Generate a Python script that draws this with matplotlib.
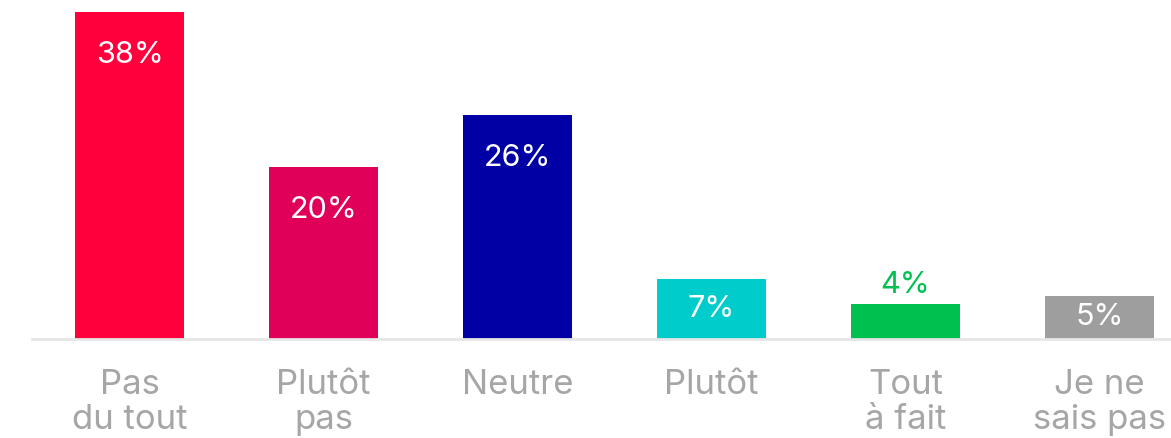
import matplotlib
matplotlib.use("Agg")
from matplotlib import pyplot as plt

plt.rcParams['font.family'] = ['Inter', 'DejaVu Sans']

categories = ['Pas\ndu tout', 'Plutôt\npas', 'Neutre', 'Plutôt', 'Tout\nà fait', 'Je ne\nsais pas']
values = [38, 20, 26, 7, 4, 5]
colors = ['#FF003C', '#E0005A', '#0000A5', '#00CCCC', '#00C050', '#9E9E9E']
# small bars get their label above the bar instead of inside
label_outside = [False, False, False, False, True, False]

fig = plt.figure(figsize=(11.71, 4.38), dpi=100)
ax = fig.add_axes([32 / 1171, 99.3 / 438, 1 - 32 / 1171, (426 - 99.3) / 438])

x = list(range(len(values)))
ax.bar(x, values, width=0.562, color=colors, zorder=2)
ax.set_xlim(-0.503, 5.369)
ax.set_ylim(0, 38)

for xi, v, c, out in zip(x, values, colors, label_outside):
    if out:
        ax.annotate(f'{v}%', (xi, v), xytext=(0, 19), textcoords='offset pixels',
                    ha='center', va='center', color=c, fontsize=22)
    elif v < 10:
        ax.annotate(f'{v}%', (xi, v / 2), ha='center', va='center', color='white', fontsize=22)
    else:
        ax.annotate(f'{v}%', (xi, v), xytext=(0, -43), textcoords='offset pixels',
                    ha='center', va='center', color='white', fontsize=22)

ax.set_xticks(x)
ax.set_xticklabels(categories, fontsize=25, color='#A6A6A6', linespacing=1.1,
                   va='top', multialignment='center')
ax.tick_params(axis='x', length=0, pad=22)
ax.set_yticks([])
for s in ['top', 'right', 'left']:
    ax.spines[s].set_visible(False)
ax.spines['bottom'].set_color('#E6E6E6')
ax.spines['bottom'].set_linewidth(2)

fig.savefig('out.png', dpi=100)
